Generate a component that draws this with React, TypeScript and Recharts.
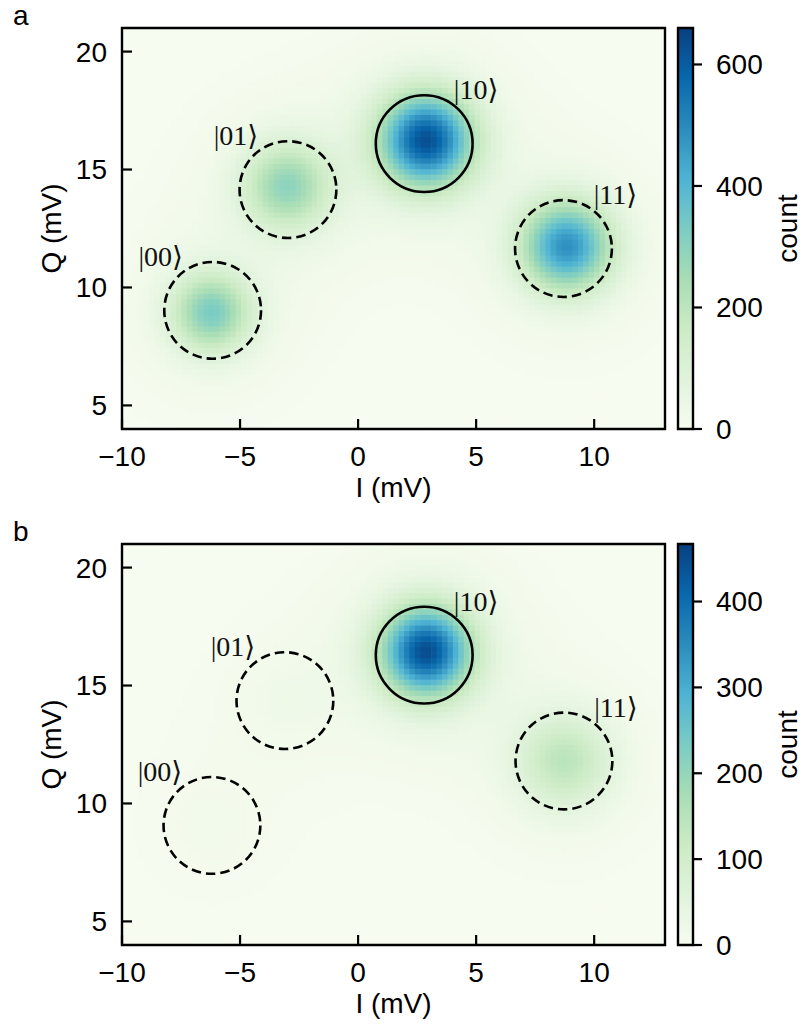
import React from "react";
import {
  ScatterChart,
  Scatter,
  ComposedChart,
  XAxis,
  YAxis,
  ReferenceArea,
  ReferenceDot,
} from "recharts";

// axes
const I_DOMAIN = [-10, 13];
const Q_DOMAIN = [4, 21];
const I_TICKS = [-10, -5, 0, 5, 10];
const Q_TICKS = [5, 10, 15, 20];

// readout states, order |00>, |01>, |10>, |11>
const STATE_LABELS = ["|00⟩", "|01⟩", "|10⟩", "|11⟩"];
const PREPARED = [false, false, true, false];
const LABEL_DI = [-2.2, -2.2, 2.2, 2.2];
const LABEL_DQ = [2.3, 2.3, 2.3, 2.3];
const CIRCLE_R_MV = 2.05;

// panel a
const A_CIRCLE_I = [-6.16, -2.97, 2.8, 8.7];
const A_CIRCLE_Q = [9.03, 14.15, 16.1, 11.65];
const A_BLOB_I = [-6.2, -3.0, 2.9, 8.85];
const A_BLOB_Q = [8.95, 14.3, 16.25, 11.75];
const A_PEAK = [300, 260, 580, 450];
const A_WIDTH = [1.15, 1.25, 1.35, 1.3];
const A_HALO = [28, 30, 45, 35];
const A_CB_TICKS = [0, 200, 400, 600];
const A_CB_MAX = 660;

// panel b
const B_CIRCLE_I = [-6.19, -3.1, 2.8, 8.72];
const B_CIRCLE_Q = [9.07, 14.36, 16.29, 11.8];
const B_BLOB_I = [-6.2, -3.1, 2.9, 8.75];
const B_BLOB_Q = [9.0, 14.3, 16.45, 11.8];
const B_PEAK = [8, 10, 410, 125];
const B_WIDTH = [1.2, 1.25, 1.3, 1.35];
const B_HALO = [6, 8, 38, 18];
const B_CB_TICKS = [0, 100, 200, 300, 400];
const B_CB_MAX = 467;

const HALO_WIDTH = 2.8;
const N_I = 100;
const N_Q = 74;

const GNBU = [
  "#f7fcf0",
  "#e0f3db",
  "#ccebc5",
  "#a8ddb5",
  "#7bccc4",
  "#4eb3d3",
  "#2b8cbe",
  "#0868ac",
  "#084081",
];

// layout
const W = 802;
const CHART_H = 510;
const PANEL_TOPS = [0, 516];
const PLOT_LEFT = 122;
const PLOT_RIGHT = 665;
const PLOT_TOP = 28;
const PLOT_H = 401;
const CB_LEFT = 678;
const CB_RIGHT = 693;
const AXIS_W = 60;
const SANS = "'Liberation Sans', Arial, Helvetica, sans-serif";
const SERIF = "'Liberation Serif', 'DejaVu Serif', 'Times New Roman', serif";

const BIN_I = (I_DOMAIN[1] - I_DOMAIN[0]) / N_I;
const BIN_Q = (Q_DOMAIN[1] - Q_DOMAIN[0]) / N_Q;
const PX_I = (PLOT_RIGHT - PLOT_LEFT) / (I_DOMAIN[1] - I_DOMAIN[0]);
const PX_Q = PLOT_H / (Q_DOMAIN[1] - Q_DOMAIN[0]);

const hex = (h: string) => [1, 3, 5].map((k) => parseInt(h.slice(k, k + 2), 16));
const GNBU_RGB = GNBU.map(hex);

function gnbu(t: number) {
  const v = Math.max(0, Math.min(1, t)) * (GNBU_RGB.length - 1);
  const k = Math.min(Math.floor(v), GNBU_RGB.length - 2);
  const f = v - k;
  const a = GNBU_RGB[k];
  const b = GNBU_RGB[k + 1];
  const c = a.map((x, j) => Math.round(x + (b[j] - x) * f));
  return `rgb(${c[0]},${c[1]},${c[2]})`;
}

// 2D histogram bins built from the cluster centres / peak counts / widths above
function buildCells(ci: number[], cq: number[], peak: number[], width: number[], halo: number[]) {
  const cells: { i: number; q: number; c: number }[] = [];
  for (let a = 0; a < N_I; a++) {
    for (let b = 0; b < N_Q; b++) {
      const i = I_DOMAIN[0] + (a + 0.5) * BIN_I;
      const q = Q_DOMAIN[0] + (b + 0.5) * BIN_Q;
      let c = 0;
      for (let k = 0; k < ci.length; k++) {
        const d2 = (i - ci[k]) ** 2 + (q - cq[k]) ** 2;
        c += peak[k] * Math.exp(-d2 / (2 * width[k] ** 2));
        c += halo[k] * Math.exp(-d2 / (2 * HALO_WIDTH ** 2));
      }
      cells.push({ i, q, c });
    }
  }
  return cells;
}

const fmt = (v: number) => (v < 0 ? `−${-v}` : `${v}`);
const TICK = { fill: "#000", fontSize: 28, fontFamily: SANS };
const TICK_LINE = { stroke: "#000", strokeWidth: 2.2 };

function Panel({
  top,
  letter,
  circleI,
  circleQ,
  blobI,
  blobQ,
  peak,
  width,
  halo,
  cbTicks,
  cbMax,
}: any) {
  const cells = buildCells(blobI, blobQ, peak, width, halo);
  const cw = BIN_I * PX_I + 0.6;
  const ch = BIN_Q * PX_Q + 0.6;
  const plotMidY = PLOT_TOP + PLOT_H / 2;
  const margin = {
    top: PLOT_TOP,
    left: PLOT_LEFT - AXIS_W,
    right: W - PLOT_RIGHT,
    bottom: CHART_H - PLOT_TOP - PLOT_H - AXIS_W,
  };
  return (
    <div style={{ position: "absolute", left: 0, top, width: W, height: CHART_H }}>
      <div style={{ position: "absolute", left: 0, top: 0 }}>
        <ScatterChart width={W} height={CHART_H} margin={margin}>
          <XAxis
            type="number"
            dataKey="i"
            domain={I_DOMAIN}
            ticks={I_TICKS}
            interval={0}
            allowDataOverflow
            height={AXIS_W}
            axisLine={false}
            tickSize={-10}
            tickMargin={27}
            tickLine={TICK_LINE}
            tick={TICK}
            tickFormatter={fmt}
            zIndex={1800}
          />
          <YAxis
            type="number"
            dataKey="q"
            domain={Q_DOMAIN}
            ticks={Q_TICKS}
            interval={0}
            allowDataOverflow
            width={AXIS_W}
            axisLine={false}
            tickSize={-10}
            tickMargin={25}
            tickLine={TICK_LINE}
            tick={TICK}
            zIndex={1800}
          />
          <Scatter
            data={cells}
            isAnimationActive={false}
            zIndex={-50}
            shape={(p: any) => (
              <rect
                x={p.cx - cw / 2}
                y={p.cy - ch / 2}
                width={cw}
                height={ch}
                fill={gnbu(p.payload.c / cbMax)}
              />
            )}
          />
          {circleI.map((ci: number, k: number) => (
            <ReferenceDot
              key={`c${k}`}
              x={ci}
              y={circleQ[k]}
              r={CIRCLE_R_MV * PX_I}
              fill="none"
              stroke="#000"
              strokeWidth={2.6}
              strokeDasharray={PREPARED[k] ? undefined : "9.5 5"}
              zIndex={1500}
            />
          ))}
          {circleI.map((ci: number, k: number) => (
            <ReferenceDot
              key={`l${k}`}
              x={ci + LABEL_DI[k]}
              y={circleQ[k] + LABEL_DQ[k]}
              r={0}
              fill="none"
              stroke="none"
              zIndex={1600}
              label={{
                value: STATE_LABELS[k],
                position: "center",
                fill: "#111",
                fontSize: 28,
                fontFamily: SERIF,
              }}
            />
          ))}
          <ReferenceArea
            x1={I_DOMAIN[0]}
            x2={I_DOMAIN[1]}
            y1={Q_DOMAIN[0]}
            y2={Q_DOMAIN[1]}
            fill="none"
            fillOpacity={0}
            stroke="#000"
            strokeWidth={2.4}
            ifOverflow="visible"
            zIndex={1700}
          />
        </ScatterChart>
      </div>
      <div style={{ position: "absolute", left: 0, top: 0 }}>
        <ComposedChart
          width={W}
          height={CHART_H}
          margin={{ ...margin, left: CB_LEFT, right: W - CB_RIGHT - AXIS_W, bottom: margin.bottom + AXIS_W }}
          data={[{ x: 0 }, { x: 1 }]}
        >
          <XAxis type="number" dataKey="x" domain={[0, 1]} hide />
          <YAxis
            type="number"
            orientation="right"
            domain={[0, cbMax]}
            ticks={cbTicks}
            interval={0}
            allowDataOverflow
            width={AXIS_W}
            axisLine={false}
            tickSize={9}
            tickMargin={14}
            tickLine={TICK_LINE}
            tick={TICK}
          />
          <ReferenceArea
            x1={0}
            x2={1}
            y1={0}
            y2={cbMax}
            fill="url(#gnbu)"
            fillOpacity={1}
            stroke="#000"
            strokeWidth={2.4}
            ifOverflow="visible"
          />
        </ComposedChart>
      </div>
      <svg
        width={W}
        height={CHART_H}
        style={{ position: "absolute", left: 0, top: 0, pointerEvents: "none" }}
      >
        <text x={13} y={25} fontSize={28} fontFamily={SANS} fill="#000">
          {letter}
        </text>
        <text
          x={(PLOT_LEFT + PLOT_RIGHT) / 2}
          y={PLOT_TOP + PLOT_H + 68}
          fontSize={28}
          fontFamily={SANS}
          textAnchor="middle"
          fill="#000"
        >
          I (mV)
        </text>
        <text
          x={51}
          y={plotMidY}
          fontSize={28}
          fontFamily={SANS}
          textAnchor="middle"
          dominantBaseline="central"
          transform={`rotate(-90 51 ${plotMidY})`}
          fill="#000"
        >
          Q (mV)
        </text>
        <text
          x={787}
          y={plotMidY}
          fontSize={28}
          fontFamily={SANS}
          textAnchor="middle"
          dominantBaseline="central"
          transform={`rotate(-90 787 ${plotMidY})`}
          fill="#000"
        >
          count
        </text>
      </svg>
    </div>
  );
}

export default function App() {
  return (
    <div
      style={{
        position: "absolute",
        left: 0,
        top: 0,
        width: W,
        height: 1026,
        background: "#fff",
        overflow: "hidden",
      }}
    >
      <svg width={0} height={0} style={{ position: "absolute" }}>
        <defs>
          <linearGradient id="gnbu" x1="0" y1="1" x2="0" y2="0">
            {GNBU.map((c, k) => (
              <stop key={c} offset={k / (GNBU.length - 1)} stopColor={c} />
            ))}
          </linearGradient>
        </defs>
      </svg>
      <Panel
        top={PANEL_TOPS[0]}
        letter="a"
        circleI={A_CIRCLE_I}
        circleQ={A_CIRCLE_Q}
        blobI={A_BLOB_I}
        blobQ={A_BLOB_Q}
        peak={A_PEAK}
        width={A_WIDTH}
        halo={A_HALO}
        cbTicks={A_CB_TICKS}
        cbMax={A_CB_MAX}
      />
      <Panel
        top={PANEL_TOPS[1]}
        letter="b"
        circleI={B_CIRCLE_I}
        circleQ={B_CIRCLE_Q}
        blobI={B_BLOB_I}
        blobQ={B_BLOB_Q}
        peak={B_PEAK}
        width={B_WIDTH}
        halo={B_HALO}
        cbTicks={B_CB_TICKS}
        cbMax={B_CB_MAX}
      />
    </div>
  );
}
